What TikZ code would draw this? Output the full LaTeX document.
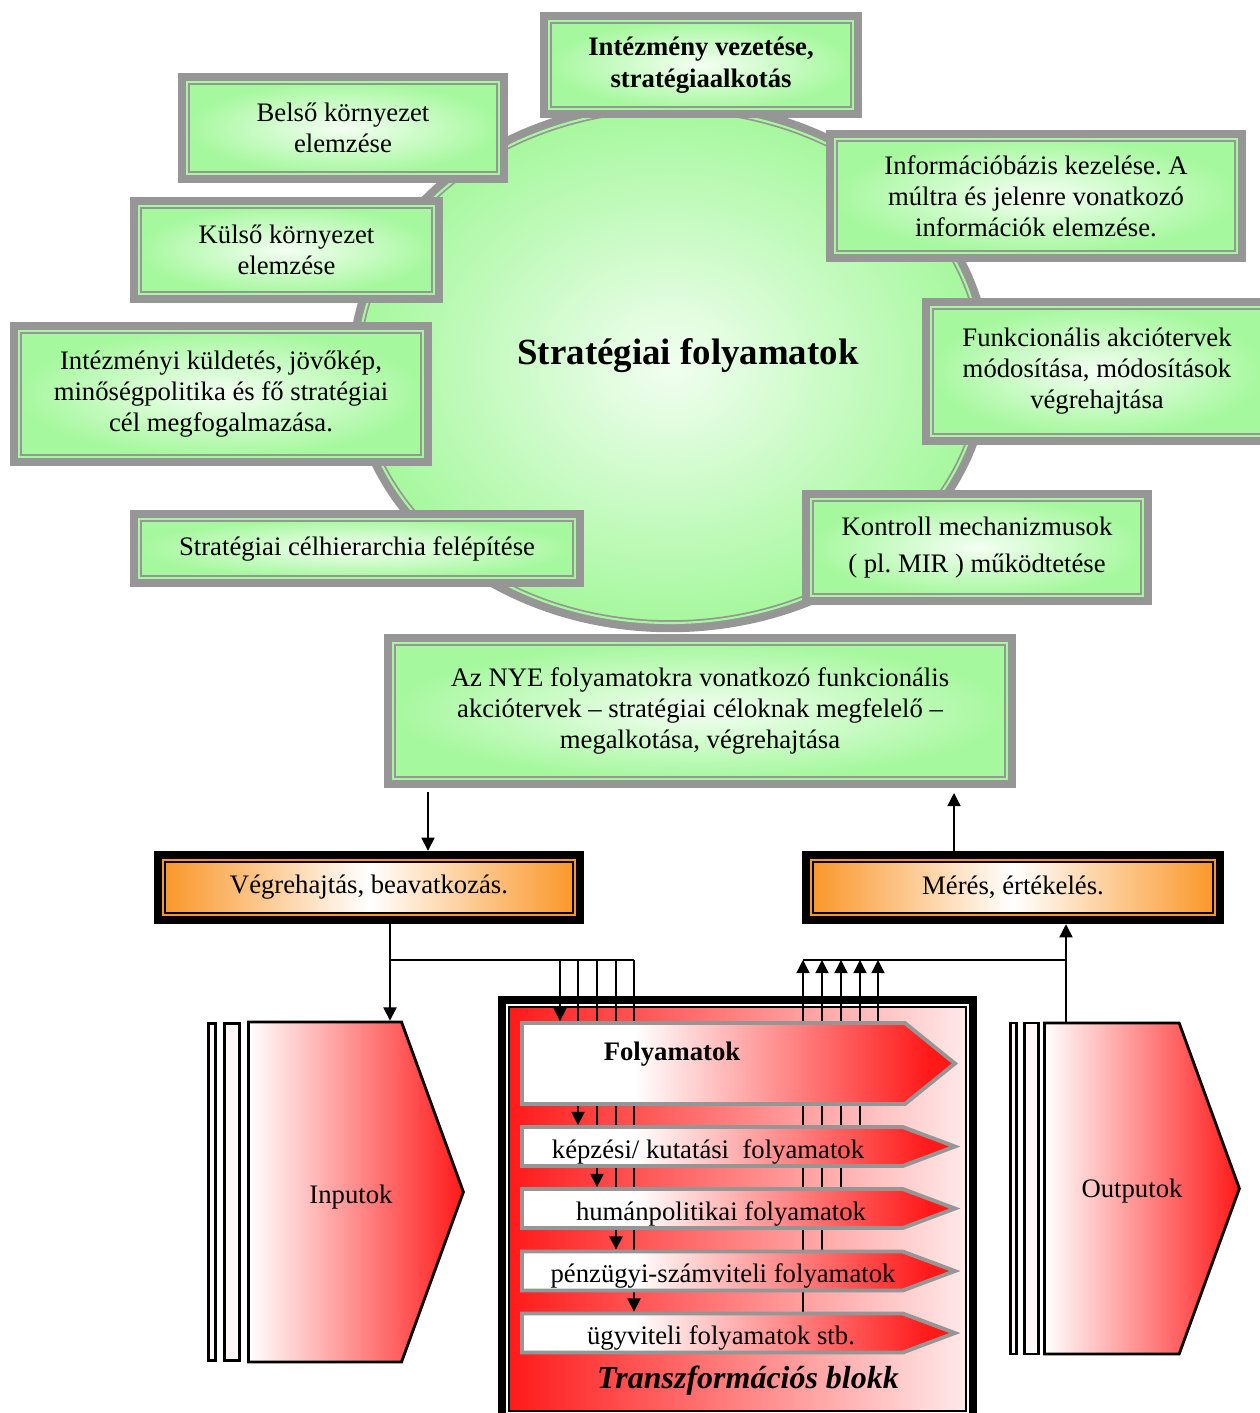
\documentclass[tikz,border=0pt]{standalone}
\usepackage{fontspec}
\setmainfont{Liberation Serif}
\usetikzlibrary{shapes.geometric,shapes.symbols,arrows.meta}

\definecolor{keret}{RGB}{150,150,150}
\definecolor{zold}{RGB}{166,248,158}
\definecolor{narancs}{RGB}{250,150,40}
\definecolor{piros}{RGB}{255,25,25}
\newcommand{\pxu}{0.02cm}
\pgfdeclarehorizontalshading{folyam}{100bp}{color(0bp)=(white); color(38bp)=(white); color(72bp)=(piros); color(100bp)=(piros)}
\pgfdeclarehorizontalshading{blokk}{100bp}{color(0bp)=(piros); color(25bp)=(piros); color(80bp)=(white); color(100bp)=(white)}
\pgfdeclarelayer{hatter}
\pgfdeclarelayer{vonalak}
\pgfsetlayers{hatter,vonalak,main}

\tikzset{
  keretes/.style={preaction={draw=#1, line width=10.5pt}, draw=#1, line width=1pt,
    double distance=1.2pt, outer sep=5.25pt},
  zoldbox/.style={keretes=keret, double=zold, inner color=zold!12, outer color=zold,
    align=center, font=\fontsize{15.2}{17.6}\selectfont},
  narancsbox/.style={keretes=black, double=narancs, left color=narancs, right color=narancs,
    middle color=white, font=\fontsize{15.2}{18}\selectfont},
  blokkbox/.style={keretes=black, double=white, shade, shading=blokk},
  folyamat/.style={signal, signal to=east, draw=keret, line width=2.2pt, shade, shading=folyam,
    inner sep=0pt, minimum width=433*\pxu, anchor=west},
  bemenet/.style={signal, signal to=east, draw, line width=1.6pt, left color=white,
    right color=piros, signal pointer angle=140, inner sep=0pt, anchor=west},
  lap/.style={rectangle, draw, line width=1.5pt, fill=piros!3, inner sep=0pt},
  felirat/.style={anchor=base, font=\fontsize{15.2}{18}\selectfont},
  nyil/.style={-{Triangle[width=7.5pt,length=7.5pt]}, line width=0.8pt}
}

\begin{document}
\frenchspacing
\begin{tikzpicture}[x=\pxu, y=-\pxu]
  \useasboundingbox (0,0) rectangle (1259,1413);

  % strategiai kor
  \node[ellipse, keretes=keret, double=zold, inner color=zold!15, outer color=zold,
    minimum width=624*\pxu, minimum height=514*\pxu] (kor) at (670,366) {};
  \node[font=\fontsize{21}{25}\selectfont\bfseries] (cim) at (688,356) {Stratégiai folyamatok};

  \node[zoldbox, minimum width=304*\pxu, minimum height=88*\pxu,
    font=\fontsize{15.2}{18}\selectfont\bfseries] (vezetes) at (701,65) {Intézmény vezetése,\\ stratégiaalkotás};
  \node[zoldbox, minimum width=312*\pxu, minimum height=92*\pxu] (belso) at (343,128) {Belső környezet\\ elemzése};
  \node[zoldbox, minimum width=402*\pxu, minimum height=114*\pxu] (info) at (1036,196)
    {Információbázis kezelése. A\\ múltra és jelenre vonatkozó\\ információk elemzése.};
  \node[zoldbox, minimum width=295*\pxu, minimum height=88*\pxu] (kulso) at (286.5,250) {Külső környezet\\ elemzése};
  \node[zoldbox, minimum width=332*\pxu, minimum height=129*\pxu] (funk) at (1097,371.5)
    {Funkcionális akciótervek\\ módosítása, módosítások\\ végrehajtása};
  \node[zoldbox, minimum width=404*\pxu, minimum height=126*\pxu] (kuldetes) at (221,394)
    {Intézményi küldetés, jövőkép,\\ minőségpolitika és fő stratégiai\\ cél megfogalmazása.};
  \node[zoldbox, minimum width=436*\pxu, minimum height=59*\pxu] (celhier) at (357,548.5)
    {Stratégiai célhierarchia felépítése};
  \node[zoldbox, minimum width=332*\pxu, minimum height=97*\pxu] (kontroll) at (977,547.5)
    {Kontroll mechanizmusok\\[3pt] ( pl. MIR ) működtetése};
  \node[zoldbox, minimum width=614*\pxu, minimum height=136*\pxu] (nye) at (700,711)
    {Az NYE folyamatokra vonatkozó funkcionális\\ akciótervek -- stratégiai céloknak megfelelő --\\ megalkotása, végrehajtása};

  \node[narancsbox, minimum width=412*\pxu, minimum height=55*\pxu] (vegre) at (369,887.5) {Végrehajtás, beavatkozás.};
  \node[narancsbox, minimum width=404*\pxu, minimum height=55*\pxu] (meres) at (1013,887.5) {Mérés, értékelés.};

  % transzformacios blokk
  \begin{pgfonlayer}{hatter}
    \node[blokkbox, minimum width=461*\pxu, minimum height=408*\pxu] (blokk) at (737.5,1209) {};
  \end{pgfonlayer}

  \node[lap, minimum width=7.5*\pxu, minimum height=337*\pxu] (inlap1) at (212,1192) {};
  \node[lap, minimum width=15*\pxu, minimum height=337*\pxu] (inlap2) at (232,1192) {};
  \node[bemenet, minimum width=215*\pxu, minimum height=340*\pxu] (inp) at (247,1192) {};
  \node[felirat] (inp_t) at (351,1203) {Inputok};

  \node[lap, minimum width=6.5*\pxu, minimum height=331*\pxu] (outlap1) at (1013.5,1188.5) {};
  \node[lap, minimum width=14*\pxu, minimum height=331*\pxu] (outlap2) at (1031.5,1188.5) {};
  \node[bemenet, minimum width=195*\pxu, minimum height=331*\pxu] (outp) at (1043,1188.5) {};
  \node[felirat] (outp_t) at (1132,1197) {Outputok};

  \node[folyamat, minimum height=81*\pxu, signal pointer angle=78] (fol) at (520,1063.5) {};
  \node[folyamat, minimum height=39*\pxu, signal pointer angle=41] (kep) at (520,1146.5) {};
  \node[folyamat, minimum height=39*\pxu, signal pointer angle=41] (hum) at (520,1208.5) {};
  \node[folyamat, minimum height=39*\pxu, signal pointer angle=41] (penz) at (520,1271) {};
  \node[folyamat, minimum height=39*\pxu, signal pointer angle=41] (ugy) at (520,1333) {};

  \node[felirat, font=\fontsize{15.2}{18}\selectfont\bfseries] (fol_t) at (672,1060) {Folyamatok};
  \node[felirat] (kep_t) at (708,1158) {képzési/ kutatási\ \ folyamatok};
  \node[felirat] (hum_t) at (721,1220) {humánpolitikai folyamatok};
  \node[felirat] (penz_t) at (723,1282) {pénzügyi-számviteli folyamatok};
  \node[felirat] (ugy_t) at (721,1344) {ügyviteli folyamatok stb.};
  \node[felirat, font=\fontsize{18.2}{22}\selectfont\bfseries\itshape] (transz) at (748,1388) {Transzformációs blokk};

  % osszekotesek
  \begin{pgfonlayer}{vonalak}
    \coordinate (le) at (428,792);
    \coordinate (fel) at (954,793);
    \coordinate (elag) at (390,960);
    \coordinate (gyujt) at (1066,960);
    \draw[nyil] (le) -- (le |- vegre.north);
    \draw[nyil] (fel |- meres.north) -- (fel);
    \draw[nyil] (vegre.south -| elag) -- (elag) -- (elag |- inp.north);
    \draw[line width=0.8pt] (elag) -- (634,960);
    \foreach \x/\cel in {560/fol, 578/kep, 597/hum, 616/penz, 634/ugy}
      \draw[nyil] (\x,960) -- (\x,960 |- \cel.north);
    \draw[line width=0.8pt] (803,960) -- (gyujt);
    \draw[nyil] (outp.north -| gyujt) -- (gyujt) -- (gyujt |- meres.south);
    \foreach \x/\forras in {803/ugy, 822/penz, 841/hum, 860/kep, 878/fol}
      \draw[nyil] (\x,960 |- \forras.north) -- (\x,960);
  \end{pgfonlayer}
\end{tikzpicture}
\end{document}
